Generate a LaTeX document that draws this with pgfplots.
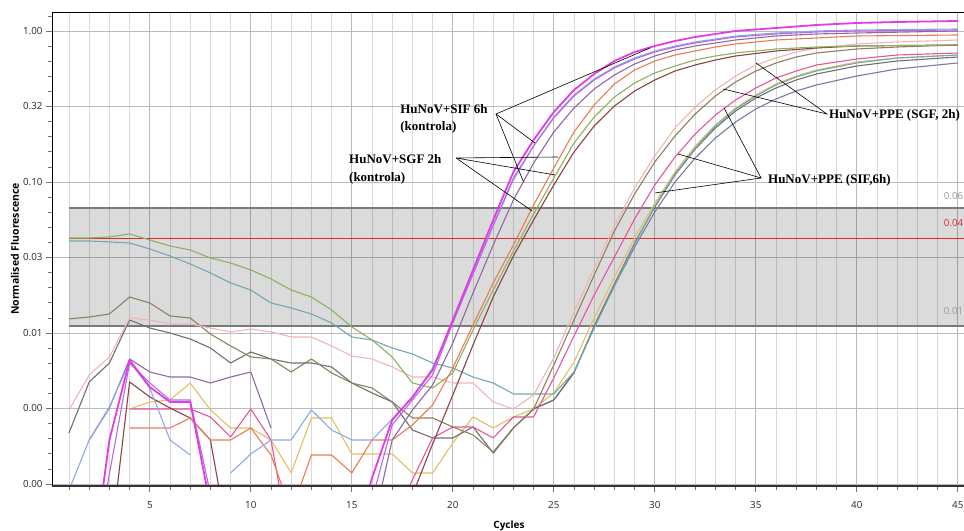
\documentclass[border=0pt]{standalone}
\usepackage{pgfplots}
\pgfplotsset{compat=1.18}
\usepackage{fontspec}
\setmainfont{Open Sans}
\newfontfamily\annfont{Liberation Serif}
\definecolor{cAa}{HTML}{E23CE6}
\definecolor{cAb}{HTML}{B868E0}
\definecolor{cAc}{HTML}{8FA8EA}
\definecolor{cAd}{HTML}{8E68A8}
\definecolor{cBa}{HTML}{EC7A55}
\definecolor{cBb}{HTML}{8CB25C}
\definecolor{cBc}{HTML}{8A4444}
\definecolor{cCa}{HTML}{F2B4B4}
\definecolor{cCb}{HTML}{8E8060}
\definecolor{cDa}{HTML}{E8559E}
\definecolor{cDb}{HTML}{72A8B0}
\definecolor{cDc}{HTML}{707070}
\definecolor{cDd}{HTML}{E0C060}
\definecolor{cDe}{HTML}{7C7AA2}
\definecolor{gridmaj}{HTML}{BBBBBB}
\definecolor{gridmin}{HTML}{DADADA}
\definecolor{bandline}{HTML}{7A7A7A}
\definecolor{thr}{HTML}{E02828}
\begin{document}
\begin{tikzpicture}
\begin{axis}[
  name=ax, scale only axis,
  width=913.9pt, height=473.7pt,
  xmin=0.158, xmax=45.4,
  ymode=log, ymin=0.000974, ymax=1.336,
  axis line style={black, line width=0.9pt},
  xtick={5,10,...,45}, minor xtick={1,2,...,45},
  ytick={0.001,0.00316228,0.01,0.0316228,0.1,0.316228,1},
  yticklabels={0.00,0.00,0.01,0.03,0.10,0.32,1.00},
  minor ytick={1.259,0.7943,0.631,0.5012,0.3981,0.2512,0.1995,0.1585,0.1259,0.07943,0.0631,0.05012,0.03981,0.02512,0.01995,0.01585,0.01259,0.007943,0.00631,0.005012,0.003981,0.002512,0.001995,0.001585,0.001259},
  tick pos=left, tick align=outside,
  major tick length=6pt, minor tick length=4pt,
  tick style={color=black!55, line width=0.7pt},
  xmajorgrids, xminorgrids, ymajorgrids,
  major grid style={color=gridmaj, line width=0.7pt},
  minor grid style={color=gridmin, line width=0.7pt},
  tick label style={font=\fontsize{9.8}{11}\selectfont, color=black!85},
  xticklabel style={yshift=-6pt},
  /pgf/number format/assume math mode=true,
  xlabel={\bfseries Cycles},
  xlabel style={font=\fontsize{10}{12}\selectfont, at={(axis description cs:0.5,0)}, anchor=center, yshift=-40pt},
  ylabel={\bfseries Normalised Fluorescence},
  ylabel style={font=\fontsize{10.5}{12}\selectfont, at={(axis description cs:-0.0405,0.5)}, anchor=center},
  unbounded coords=jump,
  every axis plot/.append style={line width=1.1pt, line join=round},
]
% threshold band
\fill[black, fill opacity=0.14] (axis cs:1,0.01113) rectangle (axis cs:45.4,0.0672);
\draw[bandline, line width=1.8pt] (axis cs:1,0.0672) -- (axis cs:45.4,0.0672);
\draw[bandline, line width=1.8pt] (axis cs:1,0.01113) -- (axis cs:45.4,0.01113);
\draw[thr, line width=1pt] (axis cs:1,0.04255) -- (axis cs:45.4,0.04255);
\node[anchor=base east, inner sep=0pt, font=\fontsize{9.8}{11}\selectfont, text=black!40] at (axis cs:45.28,0.076) {0.06};
\node[anchor=base east, inner sep=0pt, font=\fontsize{9.8}{11}\selectfont, text=thr] at (axis cs:45.28,0.0504) {0.04};
\node[anchor=base east, inner sep=0pt, font=\fontsize{9.8}{11}\selectfont, text=black!40] at (axis cs:45.28,0.01316) {0.01};

% D5 gray-purple
\addplot[cDe] coordinates {(22,0.001604) (23,0.002349) (24,0.003138) (25,0.0036) (26,0.005518) (27,0.01096) (28,0.02048) (29,0.03712) (30,0.06329) (31,0.1) (32,0.1442) (33,0.1956) (34,0.2497) (35,0.3044) (36,0.3545) (37,0.4005) (38,0.439) (40,0.5035) (42,0.5603) (45,0.614)};
% D4 yellow
\addplot[cDd] coordinates {(4,0.003138) (5,0.003492) (6,0.0036) (7,0.004665) (8,0.003091) (9,0.002349) (10,0.002349) (11,0.001956) (12,0.001183) (13,0.002736) (14,0.002736) (15,0.00158) (16,0.00158) (17,0.00158) (18,0.001183) (19,0.001183) (20,0.001869) (21,0.002778) (22,0.002349) (23,0.002778) (24,0.003138) (25,0.004009) (26,0.006426) (27,0.01257) (28,0.02349) (29,0.04259) (30,0.0726) (31,0.1165) (32,0.1731) (33,0.2385) (34,0.3091) (35,0.3768) (36,0.4457) (37,0.5035) (38,0.5518) (40,0.6234) (42,0.6624) (45,0.6935)};
% D3 gray
\addplot[cDc] coordinates {(1,0.002177) (2,0.004737) (3,0.006329) (4,0.01219) (5,0.01079) (6,0.01) (7,0.009126) (8,0.007955) (9,0.006329) (10,0.007484) (11,0.006728) (12,0.006329) (13,0.006329) (14,0.005955) (15,0.004665) (16,0.004009) (17,0.003492) (18,0.002278) (19,0.002017) (20,0.002017) (21,0.002385) (22,0.001604) (23,0.002349) (24,0.003138) (25,0.0036) (26,0.005435) (27,0.01113) (28,0.02111) (29,0.03945) (30,0.06831) (31,0.1113) (32,0.1654) (33,0.2278) (34,0.2952) (35,0.36) (36,0.4194) (37,0.4737) (38,0.5191) (40,0.5865) (42,0.6329) (45,0.6728)};
% D2 teal
\addplot[cDb] coordinates {(1,0.04067) (2,0.04067) (3,0.04009) (4,0.03945) (5,0.036) (6,0.03236) (7,0.02864) (8,0.02497) (9,0.02144) (10,0.01926) (11,0.0158) (12,0.01464) (13,0.01336) (14,0.01165) (15,0.009408) (16,0.008988) (17,0.007955) (18,0.00726) (19,0.006329) (20,0.005865) (21,0.005107) (22,0.004665) (23,0.003945) (24,0.003945) (25,0.003945) (26,0.005518) (27,0.01079) (28,0.02048) (29,0.03885) (30,0.06935) (31,0.113) (32,0.1679) (33,0.2349) (34,0.3044) (35,0.3712) (36,0.439) (37,0.4959) (38,0.5435) (40,0.614) (42,0.6624) (45,0.6935)};
% D1 hot pink
\addplot[cDa] coordinates {(4,0.003138) (5,0.003138) (6,0.003138) (7,0.003138) (8,0.002778) (9,0.002048) (10,0.003138) (11,0.001956) (12,0.00035) (17,0.000578) (18,0.001063) (19,0.002017) (20,0.002385) (21,0.002385) (22,0.002017) (23,0.002778) (24,0.002778) (25,0.005039) (26,0.009553) (27,0.01785) (28,0.03185) (29,0.05688) (30,0.09553) (31,0.1464) (32,0.2079) (33,0.2778) (34,0.3492) (35,0.4194) (36,0.4884) (37,0.5435) (38,0.5955) (40,0.6525) (42,0.6935) (45,0.715)};
% C2 khaki
\addplot[cCb] coordinates {(1,0.01238) (2,0.01276) (3,0.01336) (4,0.01731) (5,0.0158) (6,0.01296) (7,0.01257) (8,0.009849) (9,0.008202) (10,0.006935) (11,0.006728) (12,0.005518) (13,0.006728) (14,0.005435) (15,0.004665) (16,0.004324) (17,0.003492) (18,0.002736) (19,0.002736) (20,0.002385) (21,0.002111) (22,0.001629) (23,0.002349) (24,0.003138) (25,0.00614) (26,0.01219) (27,0.02422) (28,0.04737) (29,0.08328) (30,0.1357) (31,0.2017) (32,0.282) (33,0.3712) (34,0.4595) (35,0.5435) (36,0.614) (37,0.6728) (38,0.715) (40,0.76) (42,0.7834) (45,0.8078)};
% C1 pink light
\addplot[cCa] coordinates {(1,0.003091) (2,0.005271) (3,0.006935) (4,0.01257) (5,0.01219) (6,0.01147) (7,0.01147) (8,0.01079) (9,0.01016) (10,0.01063) (11,0.01016) (12,0.009408) (13,0.009408) (14,0.008202) (15,0.007041) (16,0.006728) (17,0.005955) (18,0.005107) (19,0.005107) (20,0.004665) (21,0.004665) (22,0.003492) (23,0.003138) (24,0.003885) (25,0.006831) (26,0.01377) (27,0.02695) (28,0.05107) (29,0.09126) (30,0.1487) (31,0.2278) (32,0.3138) (33,0.4067) (34,0.5035) (35,0.5955) (36,0.6624) (37,0.726) (38,0.7717) (40,0.8202) (42,0.8456) (45,0.8718)};
% B3 maroon
\addplot[cBc] coordinates {(3,0.000344) (4,0.004737) (5,0.003769) (6,0.003186) (7,0.002736) (8,0.001956) (9,0.00035) (17,0.0003) (18,0.000845) (19,0.00184) (20,0.003885) (21,0.008328) (22,0.01731) (23,0.03236) (24,0.05603) (25,0.09553) (26,0.158) (27,0.2349) (28,0.3185) (29,0.4005) (30,0.4737) (31,0.5435) (32,0.5955) (33,0.6426) (34,0.6831) (36,0.7372) (38,0.7717) (40,0.7958) (45,0.8078)};
% B2 green
\addplot[cBb] coordinates {(1,0.04259) (2,0.04259) (3,0.04324) (4,0.04525) (5,0.0413) (6,0.03768) (7,0.03545) (8,0.03138) (9,0.02908) (10,0.02613) (11,0.02278) (12,0.01926) (13,0.01731) (14,0.0142) (15,0.01096) (16,0.008988) (17,0.006935) (18,0.004665) (19,0.004324) (20,0.005435) (21,0.01047) (22,0.01926) (23,0.03492) (24,0.0614) (25,0.1063) (26,0.1812) (27,0.2695) (28,0.3655) (29,0.4525) (30,0.5271) (31,0.5865) (32,0.6426) (33,0.6831) (34,0.715) (36,0.76) (38,0.7834) (40,0.7958) (45,0.8078)};
% B1 orange
\addplot[cBa] coordinates {(4,0.002349) (5,0.002349) (6,0.002349) (7,0.002736) (8,0.001956) (9,0.001956) (10,0.002349) (11,0.001556) (12,0.000653) (13,0.001556) (14,0.001556) (15,0.001183) (16,0.001956) (17,0.001956) (18,0.002459) (19,0.003336) (20,0.005865) (21,0.0113) (22,0.02144) (23,0.03826) (24,0.07041) (25,0.1238) (26,0.2144) (27,0.3236) (28,0.4457) (29,0.5518) (30,0.6329) (31,0.6935) (32,0.7372) (33,0.7834) (34,0.8202) (36,0.8718) (38,0.8988) (40,0.9266) (45,0.9408)};
% A4 purple
\addplot[cAd] coordinates {(2,0.001956) (3,0.003186) (4,0.006728) (5,0.005518) (6,0.005107) (7,0.005107) (8,0.004665) (9,0.005107) (10,0.005518) (11,0.002349) (12,nan) (16,0.000496) (17,0.001956) (18,0.003091) (19,0.004525) (20,0.008586) (21,0.0184) (22,0.03826) (23,0.076) (24,0.1336) (25,0.2144) (26,0.3091) (27,0.413) (28,0.5112) (29,0.6046) (30,0.6831) (31,0.7485) (32,0.7958) (34,0.8718) (36,0.9266) (38,0.9553) (40,0.97) (45,1.0)};
% A3 blue
\addplot[cAc] coordinates {(1,0.000912) (2,0.001956) (3,0.003236) (4,0.006426) (5,0.004324) (6,0.001956) (7,0.001556) (8,nan) (9,0.001183) (10,0.00158) (11,0.001956) (12,0.001956) (13,0.003091) (14,0.002278) (15,0.001956) (16,0.001956) (17,0.002695) (18,0.003712) (19,0.005865) (20,0.01183) (21,0.02459) (22,0.05107) (23,0.1031) (24,0.1731) (25,0.2695) (26,0.3768) (27,0.481) (28,0.5776) (29,0.6624) (30,0.7372) (31,0.7958) (32,0.8456) (34,0.9266) (36,0.97) (38,1.0) (40,1.0154) (45,1.031)};
% A2 violet
\addplot[cAb] coordinates {(2,0.0002) (3,0.001165) (4,0.006329) (5,0.004665) (6,0.0036) (7,0.0036) (8,0.000859) (15,0.0002) (16,0.000783) (17,0.002459) (18,0.0036) (19,0.005271) (20,0.01165) (21,0.02459) (22,0.05191) (23,0.1063) (24,0.1731) (25,0.2654) (26,0.3712) (27,0.4737) (28,0.5688) (29,0.6525) (30,0.726) (31,0.7834) (32,0.8328) (34,0.9126) (36,0.9553) (38,0.9849) (40,1.0) (45,1.0154)};
% A1 magenta
\addplot[cAa, line width=1.8pt] coordinates {(2,0.0002) (3,0.001956) (4,0.006625) (5,0.00439) (6,0.003492) (7,0.003492) (8,0.000715) (15,0.000377) (16,0.001096) (17,0.002654) (18,0.003769) (19,0.005688) (20,0.01219) (21,0.02613) (22,0.05603) (23,0.1165) (24,0.1897) (25,0.2908) (26,0.4067) (27,0.5191) (28,0.6329) (29,0.726) (30,0.7958) (31,0.8586) (32,0.9126) (34,1.0) (36,1.047) (38,1.096) (40,1.13) (42,1.147) (45,1.165)};

% annotations
\draw[black, line width=0.6pt] (axis cs:29.76,0.772) -- (axis cs:22.14,0.282) -- (axis cs:24.07,0.1812);
\draw[black, line width=0.6pt] (axis cs:22.14,0.282) -- (axis cs:23.50,0.1);
\draw[black, line width=0.6pt] (axis cs:25.21,0.1464) -- (axis cs:20.16,0.1442) -- (axis cs:25.06,0.1113);
\draw[black, line width=0.6pt] (axis cs:20.16,0.1442) -- (axis cs:23.92,0.0643);
\draw[black, line width=0.6pt] (axis cs:35.01,0.614) -- (axis cs:38.52,0.282) -- (axis cs:33.38,0.413);
\draw[black, line width=0.6pt] (axis cs:33.43,0.309) -- (axis cs:35.26,0.1063) -- (axis cs:31.15,0.1533);
\draw[black, line width=0.6pt] (axis cs:35.26,0.1063) -- (axis cs:30.01,0.0846);
\node[anchor=base west, inner sep=0pt, font={\annfont\bfseries\fontsize{13}{15}\selectfont}] at (axis cs:17.39,0.282) {HuNoV+SIF 6h};
\node[anchor=base west, inner sep=0pt, font={\annfont\bfseries\fontsize{13}{15}\selectfont}] at (axis cs:17.39,0.2177) {(kontrola)};
\node[anchor=base west, inner sep=0pt, font={\annfont\bfseries\fontsize{13}{15}\selectfont}] at (axis cs:14.86,0.1316) {HuNoV+SGF 2h};
\node[anchor=base west, inner sep=0pt, font={\annfont\bfseries\fontsize{13}{15}\selectfont}] at (axis cs:14.86,0.1015) {(kontrola)};
\node[anchor=base west, inner sep=0pt, font={\annfont\bfseries\fontsize{13}{15}\selectfont}] at (axis cs:38.62,0.2613) {HuNoV+PPE (SGF, 2h)};
\node[anchor=base west, inner sep=0pt, font={\annfont\bfseries\fontsize{13}{15}\selectfont}] at (axis cs:35.6,0.097) {HuNoV+PPE (SIF,6h)};
\end{axis}
\draw[line width=1.8pt, black!80] (ax.south west) -- (ax.south east);
\pgfresetboundingbox
\path[use as bounding box] ([xshift=-52pt,yshift=-45.3pt]ax.south west) rectangle ([xshift=912pt,yshift=12pt]ax.north west);
\end{tikzpicture}
\end{document}
